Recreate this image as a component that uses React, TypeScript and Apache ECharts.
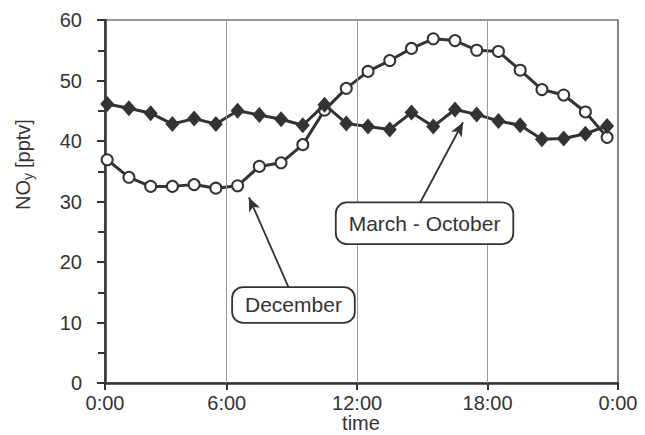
import React, { useEffect, useRef } from "react";
import * as echarts from "echarts";

// Hour of the day (mid-hour) for each measurement
const hours = [0.5, 1.5, 2.5, 3.5, 4.5, 5.5, 6.5, 7.5, 8.5, 9.5, 10.5, 11.5, 12.5, 13.5, 14.5, 15.5, 16.5, 17.5, 18.5, 19.5, 20.5, 21.5, 22.5, 23.5];
const december = [36.9, 34.0, 32.5, 32.5, 32.8, 32.2, 32.6, 35.8, 36.4, 39.4, 45.1, 48.7, 51.5, 53.3, 55.3, 56.9, 56.6, 55.0, 54.8, 51.7, 48.5, 47.6, 44.8, 40.6];
const marchOctober = [46.1, 45.4, 44.6, 42.8, 43.7, 42.8, 45.0, 44.3, 43.6, 42.6, 46.0, 42.9, 42.4, 41.9, 44.7, 42.4, 45.2, 44.4, 43.3, 42.6, 40.3, 40.4, 41.2, 42.5];
const xTickValues = [0.4, 6, 12, 18, 24];
const gridHours = [6, 12, 18];
const yTicks = { min: 0, max: 60, interval: 10 };

// annotation anchors in data coordinates
const decBox = { label: "December", at: [9.07, 12.9], from: [8.86, 15.7], to: [7.02, 30.7] };
const marBox = { label: "March - October", at: [15.1, 26.4], from: [14.89, 29.75], to: [16.87, 43.1] };

const INK = "#333";
const FONT = "Liberation Sans, Arial, Helvetica, sans-serif";

export default function App() {
  const ref = useRef<HTMLDivElement>(null);
  useEffect(() => {
    if (!ref.current) return;
    const chart = echarts.init(ref.current, undefined, { renderer: "svg" });
    const fmt = (v: number) => `${Math.round(v) % 24}:00`;
    const txt = (text: string, x: number, y: number, size: number, align = "left") => ({
      type: "text",
      x,
      y,
      style: { text, fontSize: size, fontFamily: FONT, fill: INK, align, verticalAlign: "middle" },
    });
    chart.setOption({
      animation: false,
      backgroundColor: "#fff",
      textStyle: { fontFamily: FONT, color: INK },
      grid: {
        left: 105, right: 27, top: 20, bottom: 52,
        outerBoundsMode: "none",
        containLabel: false,
        show: true, borderColor: INK, borderWidth: 1.2, backgroundColor: "transparent",
      },
      xAxis: {
        type: "value",
        min: 0.4,
        max: 24,
        axisLine: { show: true, lineStyle: { color: INK, width: 2.5 } },
        axisTick: { show: true, inside: false, length: 7, customValues: xTickValues, lineStyle: { color: INK, width: 2 } },
        axisLabel: { customValues: xTickValues, formatter: fmt, fontSize: 20, color: INK, margin: 10, fontFamily: FONT },
        splitLine: { show: false },
      },
      yAxis: {
        type: "value",
        min: yTicks.min,
        max: yTicks.max,
        interval: yTicks.interval,
        axisLine: { show: true, lineStyle: { color: INK, width: 2.5 } },
        axisTick: { show: true, inside: false, length: 8, lineStyle: { color: INK, width: 2 } },
        minorTick: { show: true, splitNumber: 2, length: 7, lineStyle: { color: INK, width: 2 } },
        axisLabel: { fontSize: 20, color: INK, margin: 23, fontFamily: FONT },
        splitLine: { show: false },
      },
      graphic: [
        {
          type: "group",
          x: 23,
          y: 210,
          rotation: Math.PI / 2,
          children: [txt("NO", 0, 0, 20), txt("y", 30, 5, 14), txt("[pptv]", 42, 0, 20)],
        },
        txt("time", 361, 423, 20, "center"),
      ],
      series: [
        {
          type: "line",
          data: [],
          silent: true,
          z: 0,
          markLine: {
            silent: true,
            symbol: ["none", "none"],
            label: { show: false },
            lineStyle: { color: "#999", width: 1, type: "solid" },
            data: gridHours.map((h) => ({ xAxis: h })),
          },
        },
        {
          name: "December",
          type: "line",
          data: hours.map((h, i) => [h, december[i]]),
          symbol: "circle",
          symbolSize: 11,
          showAllSymbol: true,
          lineStyle: { color: INK, width: 3 },
          itemStyle: { color: "#fff", borderColor: INK, borderWidth: 2 },
          z: 3,
        },
        {
          name: "March - October",
          type: "line",
          data: hours.map((h, i) => [h, marchOctober[i]]),
          symbol: "diamond",
          symbolSize: [14, 16],
          showAllSymbol: true,
          lineStyle: { color: INK, width: 3 },
          itemStyle: { color: INK },
          z: 4,
        },
        {
          type: "line",
          data: [],
          silent: true,
          z: 5,
          markLine: {
            silent: true,
            symbol: ["none", "arrow"],
            symbolSize: [9, 14],
            label: { show: false },
            lineStyle: { color: INK, width: 1.8, type: "solid" },
            data: [
              [{ coord: decBox.from }, { coord: decBox.to }],
              [{ coord: marBox.from }, { coord: marBox.to }],
            ],
          },
          markPoint: {
            silent: true,
            symbol: "rect",
            symbolSize: 1,
            itemStyle: { color: "transparent" },
            label: {
              show: true,
              position: "inside",
              formatter: (p: any) => p.name,
              fontSize: 21,
              fontFamily: FONT,
              color: INK,
              backgroundColor: "#fff",
              borderColor: INK,
              borderWidth: 1.8,
              borderRadius: 10,
            },
            data: [
              { name: decBox.label, coord: decBox.at, label: { padding: [7, 12, 6, 12] } },
              { name: marBox.label, coord: marBox.at, label: { padding: [10, 12, 9, 12] } },
            ],
          },
        },
      ],
    });
    return () => chart.dispose();
  }, []);
  return <div ref={ref} style={{ position: "fixed", left: 0, top: 0, width: 645, height: 435, background: "#fff" }} />;
}
